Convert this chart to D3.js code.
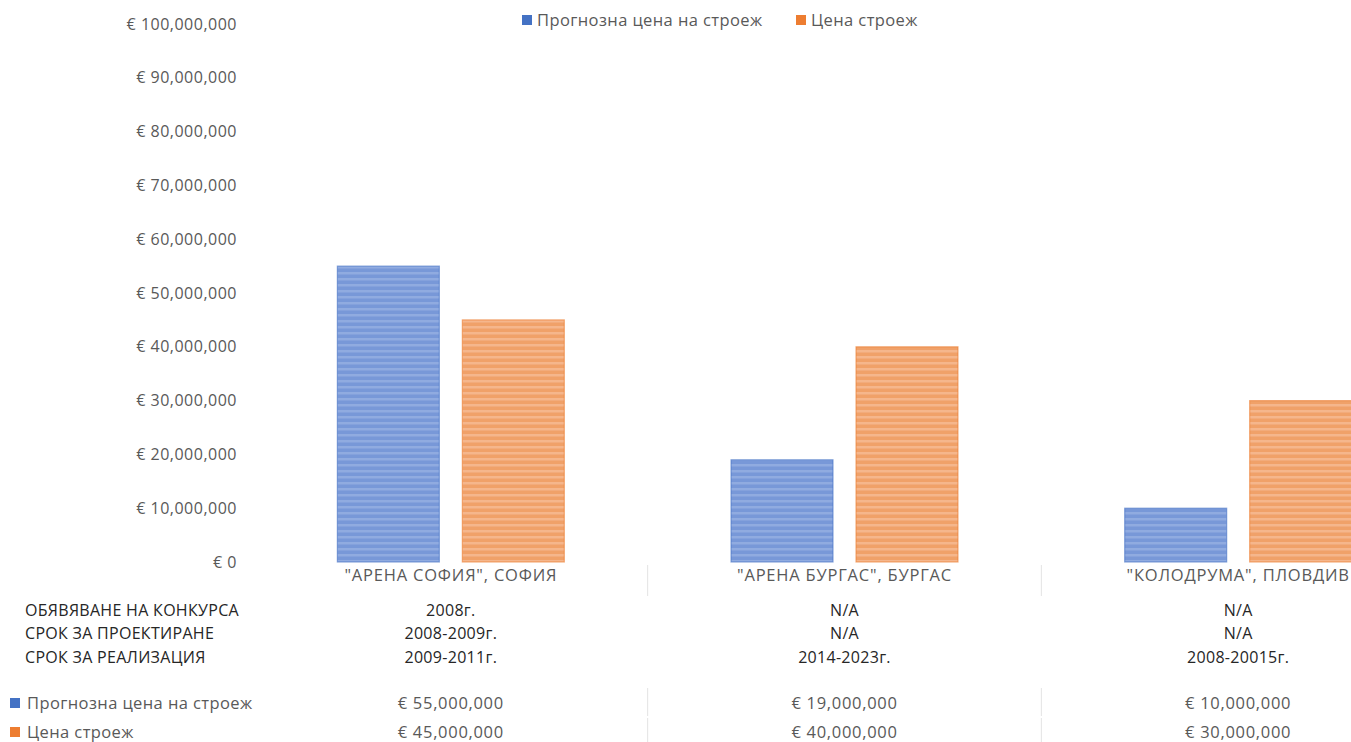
<!DOCTYPE html>
<html><head><meta charset="utf-8">
<script src="https://cdn.jsdelivr.net/npm/d3@7"></script>
<style>body{margin:0;background:#fff;overflow:hidden}svg{display:block}</style>
</head><body>
<script>
const categories = ['"АРЕНА СОФИЯ", СОФИЯ', '"АРЕНА БУРГАС", БУРГАС', '"КОЛОДРУМА", ПЛОВДИВ'];
const seriesNames = ['Прогнозна цена на строеж', 'Цена строеж'];
const forecastPrice = [55000000, 19000000, 10000000];
const actualPrice = [45000000, 40000000, 30000000];
const rowLabels = ['ОБЯВЯВАНЕ НА КОНКУРСА', 'СРОК ЗА ПРОЕКТИРАНЕ', 'СРОК ЗА РЕАЛИЗАЦИЯ'];
const announceRow = ['2008г.', 'N/A', 'N/A'];
const designRow = ['2008-2009г.', 'N/A', 'N/A'];
const realizeRow = ['2009-2011г.', '2014-2023г.', '2008-20015г.'];
const yTicks = [0, 10000000, 20000000, 30000000, 40000000, 50000000, 60000000, 70000000, 80000000, 90000000, 100000000];

const W = 1351, H = 742;
const colors = ['#4472C4', '#ED7D31'];
const stripeLight = ['#90abe0', '#f5b68c'];
const stripeBase = ['#7898d8', '#f0a169'];
const font = 'Open Sans, Noto Sans, sans-serif';

const svg = d3.select('body').append('svg').attr('width', W).attr('height', H);
const defs = svg.append('defs');
[0,1].forEach(i => {
  const p = defs.append('pattern').attr('id','pat'+i).attr('patternUnits','userSpaceOnUse')
    .attr('width', 10).attr('height', 6);
  p.append('rect').attr('width',10).attr('height',6).attr('fill', stripeBase[i]);
  p.append('rect').attr('y',2).attr('width',10).attr('height',2.5).attr('fill', stripeLight[i]);
});

const y = d3.scaleLinear().domain([0, 100000000]).range([562, 24]);
const x0 = d3.scaleBand().domain(categories).range([254, 254 + 3*393.67]);
const x1 = d3.scaleBand().domain(seriesNames).range([0, x0.bandwidth()]).paddingInner(0.184).paddingOuter(0.667);
const fmt = v => '€ ' + (v === 0 ? '0' : d3.format(',')(v));

// y axis labels
const yAxis = d3.axisLeft(y).tickValues(yTicks).tickFormat(fmt).tickSize(0).tickPadding(0);
const ya = svg.append('g').attr('transform','translate(237,0)').call(yAxis);
ya.select('.domain').remove();
ya.selectAll('text').attr('font-family', font).attr('font-size', 16).attr('letter-spacing', 0.5).attr('fill','#595959');

// bars
const data = categories.map((c, i) => ({c, vals: [forecastPrice[i], actualPrice[i]]}));
const g = svg.append('g');
data.forEach(d => {
  d.vals.forEach((v, si) => {
    g.append('rect')
      .attr('x', x0(d.c) + x1(seriesNames[si]))
      .attr('y', y(v))
      .attr('width', x1.bandwidth())
      .attr('height', y(0) - y(v))
      .attr('fill', 'url(#pat'+si+')')
      .attr('stroke', colors[si]).attr('stroke-opacity',0.6).attr('stroke-width',1.2);
  });
});

// category labels
const xAxis = d3.axisBottom(x0).tickSize(0).tickPadding(0);
const xa = svg.append('g').attr('transform','translate(0,569)').call(xAxis);
xa.select('.domain').remove();
xa.selectAll('text').attr('font-family', font).attr('font-size', 16.5).attr('letter-spacing', 0.8).attr('fill','#595959').attr('dy','0.71em');

// separators
const sepX = categories.slice(1).map(c => x0(c));
const sepLines = [[565, 596], [688, 716], [718, 742]];
sepX.forEach(sx => sepLines.forEach(([a,b]) => {
  svg.append('line').attr('x1', sx).attr('x2', sx).attr('y1', a).attr('y2', b).attr('stroke','#e3e3e3').attr('stroke-width',1);
}));

// table rows
const rows = [announceRow, designRow, realizeRow];
const rowY = [610, 633, 657];
rows.forEach((r, ri) => {
  svg.append('text').attr('x', 25).attr('y', rowY[ri]).attr('dy','0.35em')
    .attr('font-family', font).attr('font-size', 16).attr('letter-spacing', 0.3).attr('fill','#262626').text(rowLabels[ri]);
  r.forEach((v, ci) => {
    svg.append('text').attr('x', x0(categories[ci]) + x0.bandwidth()/2).attr('y', rowY[ri]).attr('dy','0.35em')
      .attr('text-anchor','middle').attr('font-family', font).attr('font-size', 16).attr('letter-spacing', 0.3).attr('fill','#262626').text(v);
  });
});

// value rows
const valRows = [forecastPrice, actualPrice];
const valY = [703, 732];
valRows.forEach((r, ri) => {
  svg.append('rect').attr('x', 10).attr('y', valY[ri]-5).attr('width', 10).attr('height', 10).attr('fill', colors[ri]);
  svg.append('text').attr('x', 27).attr('y', valY[ri]).attr('dy','0.35em')
    .attr('font-family', font).attr('font-size', 16.5).attr('letter-spacing', 0.4).attr('fill','#595959').text(seriesNames[ri]);
  r.forEach((v, ci) => {
    svg.append('text').attr('x', x0(categories[ci]) + x0.bandwidth()/2).attr('y', valY[ri]).attr('dy','0.35em')
      .attr('text-anchor','middle').attr('font-family', font).attr('font-size', 16.5).attr('letter-spacing', 0.7).attr('fill','#595959').text(fmt(v));
  });
});

// legend
const legX = [522, 796];
seriesNames.forEach((s, i) => {
  svg.append('rect').attr('x', legX[i]).attr('y', 15).attr('width', 10).attr('height', 10).attr('fill', colors[i]);
  svg.append('text').attr('x', legX[i] + 15).attr('y', 20).attr('dy','0.35em')
    .attr('font-family', font).attr('font-size', 16.5).attr('letter-spacing', 0.4).attr('fill','#595959').text(s);
});
</script>
</body></html>
